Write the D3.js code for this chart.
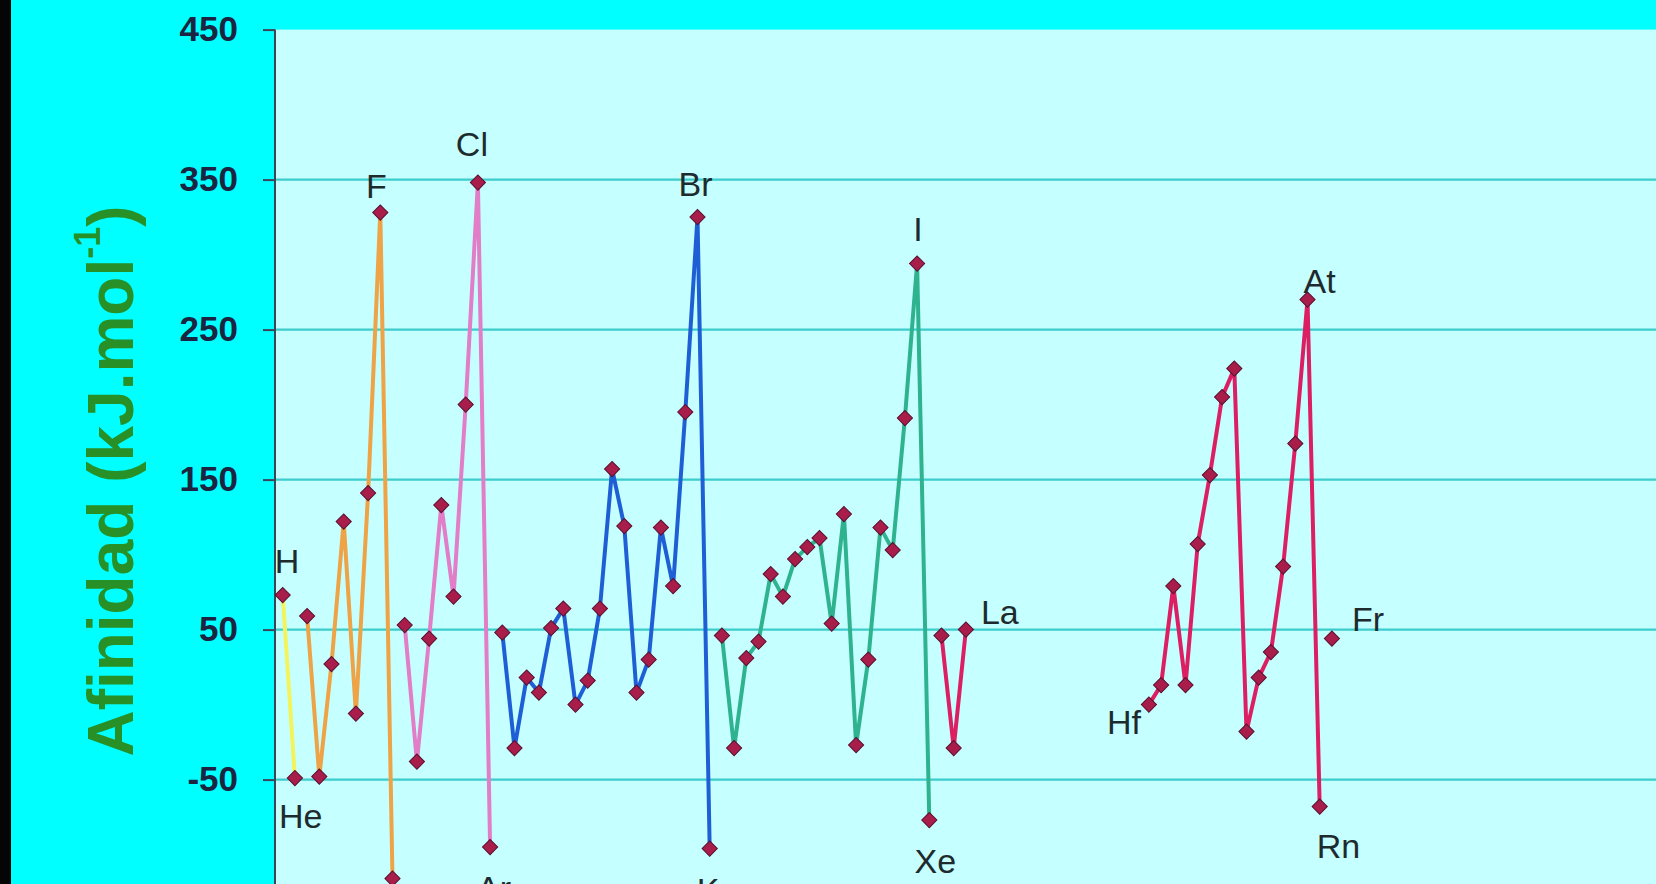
<!DOCTYPE html>
<html>
<head>
<meta charset="utf-8">
<script src="https://cdn.jsdelivr.net/npm/d3@7"></script>
<style>
  html, body { margin: 0; padding: 0; background: #00ffff; overflow: hidden; }
  svg { display: block; }
</style>
</head>
<body>
<svg id="chart" width="1656" height="884"></svg>
<script>
// ---------------- DATA ----------------
const symbols = ["H","He",
  "Li","Be","B","C","N","O","F","Ne",
  "Na","Mg","Al","Si","P","S","Cl","Ar",
  "K","Ca","Sc","Ti","V","Cr","Mn","Fe","Co","Ni","Cu","Zn","Ga","Ge","As","Se","Br","Kr",
  "Rb","Sr","Y","Zr","Nb","Mo","Tc","Ru","Rh","Pd","Ag","Cd","In","Sn","Sb","Te","I","Xe",
  "Cs","Ba","La",
  "Hf","Ta","W","Re","Os","Ir","Pt","Au","Hg","Tl","Pb","Bi","Po","At","Rn",
  "Fr"];
const atomicNumbers = [1,2,
  3,4,5,6,7,8,9,10,
  11,12,13,14,15,16,17,18,
  19,20,21,22,23,24,25,26,27,28,29,30,31,32,33,34,35,36,
  37,38,39,40,41,42,43,44,45,46,47,48,49,50,51,52,53,54,
  55,56,57,
  72,73,74,75,76,77,78,79,80,81,82,83,84,85,86,
  87];
const affinities = [73,-49,
  59,-48,27,122,-6,141,328,-116,
  53,-38,44,133,72,200,348,-95,
  48,-29,18,8,51,64,0,16,64,157,119,8,30,118,79,195,325,-96,
  46,-29,31,42,87,72,97,105,111,54,127,-27,30,118,103,191,294,-77,
  46,-29,50,
  0,13,79,13,107,153,205,224,-18,18,35,92,174,270,-68,
  44];
const periods = [1,1,
  2,2,2,2,2,2,2,2,
  3,3,3,3,3,3,3,3,
  4,4,4,4,4,4,4,4,4,4,4,4,4,4,4,4,4,4,
  5,5,5,5,5,5,5,5,5,5,5,5,5,5,5,5,5,5,
  6,6,6,
  6,6,6,6,6,6,6,6,6,6,6,6,6,6,6,
  7];
const labeledSymbols = ["H","He","F","Cl","Ar","Br","Kr","I","Xe","La","Hf","At","Rn","Fr"];
const yTickValues = [450,350,250,150,50,-50];
const yTitle = "Afinidad (kJ.mol";
const yTitleSup = "-1";

// ---------------- STYLE / LAYOUT ----------------
const W = 1656, H = 884;
const axisX = 275, plotTop = 29.6;
const periodColors = {1:"#f3f35c", 2:"#eea347", 3:"#e27dc8", 4:"#1f5fd6", 5:"#2fb38f", 6:"#dc1f62", 7:"#dc1f62"};

const svg = d3.select("#chart");

svg.append("rect").attr("x",0).attr("y",0).attr("width",W).attr("height",H).attr("fill","#00ffff");
svg.append("rect").attr("x",0).attr("y",0).attr("width",11).attr("height",H).attr("fill","#050505");

const x = d3.scaleLinear().domain([1, 87]).range([282.7, 282.7 + 86*12.2]);
const y = d3.scaleLinear().domain([-50, 450]).range([779.6, plotTop]);

// plot area
svg.append("rect").attr("x",axisX).attr("y",plotTop).attr("width",W-axisX).attr("height",H-plotTop).attr("fill","#c6ffff");

// gridlines
svg.append("g").selectAll("line").data(yTickValues.filter(v => v !== 450)).join("line")
  .attr("x1", axisX).attr("x2", W)
  .attr("y1", d => y(d)).attr("y2", d => y(d))
  .attr("stroke", "#3ccccc").attr("stroke-width", 2.2);

// y axis
const yAxis = d3.axisLeft(y).tickValues(yTickValues).tickFormat(d => String(d))
  .tickSize(12).tickPadding(25).tickSizeOuter(0);
const gy = svg.append("g").attr("transform", `translate(${axisX},0)`).call(yAxis);
gy.select(".domain").remove();
gy.selectAll(".tick line").attr("stroke","#3a4658").attr("stroke-width",2);
gy.selectAll(".tick text")
  .attr("font-family","'Liberation Sans', Arial, sans-serif")
  .attr("font-size", 35).attr("font-weight","bold").attr("fill","#1b2440");
svg.append("line").attr("x1",axisX).attr("x2",axisX).attr("y1",plotTop).attr("y2",H)
  .attr("stroke","#3a4658").attr("stroke-width",2);

// y title
const title = svg.append("text")
  .attr("transform", "translate(111,481) rotate(-90)")
  .attr("text-anchor","middle").attr("dominant-baseline","central")
  .attr("font-family","'Liberation Sans', Arial, sans-serif")
  .attr("font-size", 64).attr("font-weight","bold").attr("fill","#279127");
title.append("tspan").text(yTitle);
title.append("tspan").attr("font-size", 36).attr("dy", -24).text(yTitleSup);
title.append("tspan").attr("dy", 24).text(")");

// data records
const records = symbols.map((s,i) => ({sym:s, z:atomicNumbers[i], v:affinities[i], p:periods[i]}));
const byPeriod = d3.group(records, d => d.p);

const line = d3.line().x(d => x(d.z)).y(d => y(d.v));

const lines = svg.append("g");
for (const [p, recs] of byPeriod) {
  // split at gaps in atomic number
  const segs = [];
  let cur = [];
  recs.forEach((r, i) => {
    if (i > 0 && r.z - recs[i-1].z > 1) { segs.push(cur); cur = []; }
    cur.push(r);
  });
  segs.push(cur);
  segs.forEach(seg => {
    if (seg.length > 1) {
      lines.append("path").datum(seg).attr("d", line)
        .attr("fill","none").attr("stroke", periodColors[p])
        .attr("stroke-width", 4).attr("stroke-linejoin","round");
    }
  });
}

// markers
const sym = d3.symbol(d3.symbolSquare, 115);
svg.append("g").selectAll("path").data(records).join("path")
  .attr("d", sym)
  .attr("transform", d => `translate(${x(d.z)},${y(d.v)}) rotate(45)`)
  .attr("fill","#a81d4a").attr("stroke","#5b1030").attr("stroke-width",1);

// labels
const labelPlacement = {
  H:  {dx:-8,  dy:-22, a:"start"},
  He: {dx:-16, dy:50,  a:"start"},
  F:  {dx:-4,  dy:-15, a:"middle"},
  Cl: {dx:-6,  dy:-27, a:"middle"},
  Ar: {dx:4,   dy:53,  a:"middle"},
  Br: {dx:-2,  dy:-21, a:"middle"},
  Kr: {dx:4,   dy:53,  a:"middle"},
  I:  {dx:1,   dy:-23, a:"middle"},
  Xe: {dx:6,   dy:53,  a:"middle"},
  La: {dx:15,  dy:-6,  a:"start"},
  Hf: {dx:-8,  dy:29,  a:"end"},
  At: {dx:-4,  dy:-7,  a:"start"},
  Rn: {dx:-3,  dy:51,  a:"start"},
  Fr: {dx:20,  dy:-8,  a:"start"}
};
svg.append("g").selectAll("text").data(records.filter(r => labeledSymbols.includes(r.sym))).join("text")
  .attr("x", d => x(d.z) + labelPlacement[d.sym].dx)
  .attr("y", d => y(d.v) + labelPlacement[d.sym].dy)
  .attr("text-anchor", d => labelPlacement[d.sym].a)
  .attr("font-family","'Liberation Sans', Arial, sans-serif")
  .attr("font-size", 34).attr("fill","#1e2b2e")
  .text(d => d.sym);
</script>
</body>
</html>
